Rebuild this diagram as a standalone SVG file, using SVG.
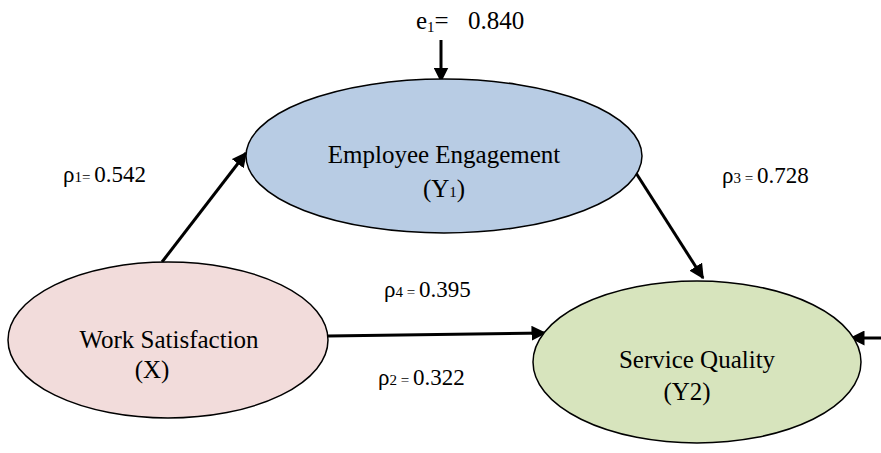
<svg xmlns="http://www.w3.org/2000/svg" width="881" height="453" viewBox="0 0 881 453">
<defs>
<marker id="ah" viewBox="0 0 10 10" refX="9" refY="5" markerWidth="5" markerHeight="5" orient="auto" markerUnits="strokeWidth">
<path d="M0,0 L10,5 L0,10 z" fill="#000"/>
</marker>
<style>
text{fill:#000;font-family:"Liberation Serif","Times New Roman",serif;}
.n{font-size:25px;}
.l{font-size:23px;}
.s{font-size:15px;}
.e{stroke:#000;stroke-width:1.5;}
.c{stroke:#000;stroke-width:3;fill:none;marker-end:url(#ah);}
</style>
</defs>
<rect width="881" height="453" fill="#fff"/>
<g id="connectors">
<line class="c" x1="441" y1="40" x2="441" y2="81"/>
<line class="c" x1="162" y1="262" x2="246" y2="153"/>
<line class="c" x1="636" y1="173" x2="703" y2="278"/>
<line class="c" x1="328" y1="336" x2="545" y2="333"/>
<line class="c" x1="881" y1="338" x2="851" y2="338"/>
</g>
<g id="employee-engagement">
<ellipse class="e" cx="444" cy="156" rx="198" ry="77" fill="#b8cce4"/>
<text class="n" x="444" y="163" text-anchor="middle">Employee Engagement</text>
<text class="n" x="444" y="197" text-anchor="middle">(Y<tspan class="s">1</tspan>)</text>
</g>
<g id="work-satisfaction">
<ellipse class="e" cx="168" cy="340" rx="160" ry="78" fill="#f2dcdb"/>
<text class="n" x="169" y="348" text-anchor="middle">Work Satisfaction</text>
<text class="n" x="152" y="378" text-anchor="middle">(X)</text>
</g>
<g id="service-quality">
<ellipse class="e" cx="697" cy="362" rx="164" ry="81" fill="#d7e4bd"/>
<text class="n" x="697" y="368" text-anchor="middle">Service Quality</text>
<text class="n" x="687" y="400" text-anchor="middle">(Y2)</text>
</g>
<g id="labels">
<text class="n" x="416" y="29">e<tspan class="s" dy="3">1</tspan><tspan dy="-3">=</tspan><tspan x="468">0.840</tspan></text>
<text class="l" x="63" y="182">ρ<tspan class="s">1= </tspan>0.542</text>
<text class="l" x="722" y="183">ρ<tspan class="s">3 = </tspan>0.728</text>
<text class="l" x="384" y="297">ρ<tspan class="s">4 = </tspan>0.395</text>
<text class="l" x="378" y="385">ρ<tspan class="s">2 = </tspan>0.322</text>
</g>
</svg>
